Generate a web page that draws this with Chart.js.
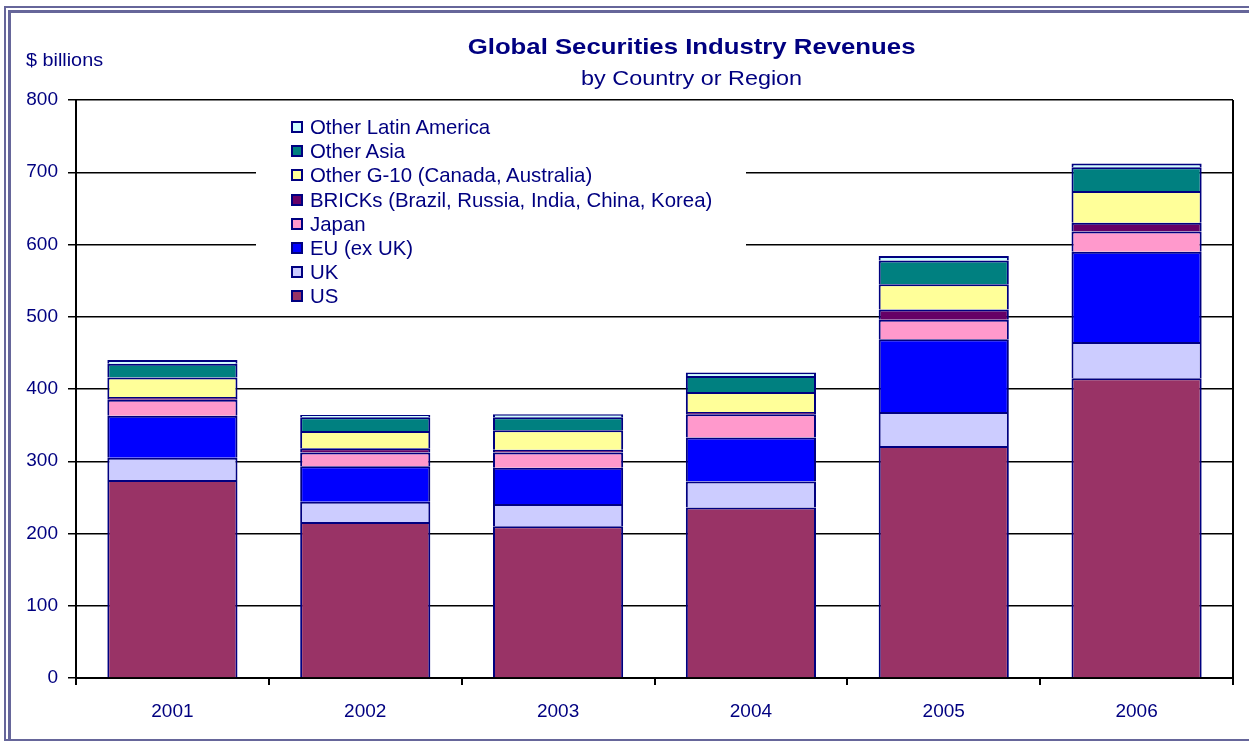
<!DOCTYPE html>
<html>
<head>
<meta charset="utf-8">
<script src="https://cdn.jsdelivr.net/npm/chart.js@4"></script>
<style>
  html, body { margin: 0; padding: 0; background: #fff; }
  #wrap { position: relative; width: 1249px; height: 741px; overflow: hidden; font-family: "Liberation Sans", Arial, sans-serif; color: #000080; }
  #chart { position: absolute; left: 0; top: 0; }
  .frame1 { position: absolute; left: 4px; top: 6px; width: 1300px; height: 735px; border-left: 2px solid #66669a; border-top: 2px solid #66669a; border-bottom: 2px solid #66669a; box-sizing: border-box; }
  .frame2 { position: absolute; left: 8px; top: 10px; width: 1300px; height: 740px; border-left: 3px solid #66669a; border-top: 3px solid #66669a; box-sizing: border-box; }
  .title { position: absolute; left: 0; width: 1383px; text-align: center; top: 34px; font-weight: bold; font-size: 22px; transform: scaleX(1.17); transform-origin: 691px 0; }
  .subtitle { position: absolute; left: 0; width: 1383px; text-align: center; top: 67px; font-size: 20px; transform: scaleX(1.17); transform-origin: 691px 0; }
  .unit { position: absolute; left: 26px; top: 50px; font-size: 18px; transform: scaleX(1.1); transform-origin: 0 0; }
  #legend { position: absolute; left: 256px; top: 112px; width: 490px; height: 198px; background: #fff; }
  .item { position: absolute; left: 35px; height: 24px; line-height: 24px; font-size: 20.4px; white-space: nowrap; }
  .item span.box { position: absolute; left: 0; top: 6px; width: 8px; height: 8px; border: 2px solid #000080; }
  .item span.lbl { position: absolute; left: 19px; top: 0; }
</style>
</head>
<body>
<div id="wrap">
  <canvas id="chart" width="1249" height="741"></canvas>
  <div class="frame1"></div>
  <div class="frame2"></div>
  <div class="title">Global Securities Industry Revenues</div>
  <div class="subtitle">by Country or Region</div>
  <div class="unit">$ billions</div>
  <div id="legend"></div>
</div>
<script>
const years = ['2001', '2002', '2003', '2004', '2005', '2006'];

const us = [274, 216, 210, 236, 321, 415];
const uk = [31, 28, 31, 36, 47, 50];
const euExUk = [58, 49, 50, 61, 101, 125];
const japan = [22, 19, 21, 32, 27, 28];
const bricks = [4, 6, 4, 3, 14, 12];
const otherG10 = [27, 24, 27, 28, 35, 44];
const otherAsia = [19, 19, 18, 22, 33, 33];
const otherLatAm = [5, 3, 4, 5, 6, 5];

const yTicks = [0, 100, 200, 300, 400, 500, 600, 700, 800];

const navy = '#000080';

const series = [
  { label: 'US', data: us, color: '#993366' },
  { label: 'UK', data: uk, color: '#ccccff' },
  { label: 'EU (ex UK)', data: euExUk, color: '#0000ff' },
  { label: 'Japan', data: japan, color: '#ff99cc' },
  { label: 'BRICKs (Brazil, Russia, India, China, Korea)', data: bricks, color: '#660066' },
  { label: 'Other G-10 (Canada, Australia)', data: otherG10, color: '#ffff99' },
  { label: 'Other Asia', data: otherAsia, color: '#008080' },
  { label: 'Other Latin America', data: otherLatAm, color: '#ccffff' }
];

// legend in reverse order, like the stack
const legendEl = document.getElementById('legend');
series.slice().reverse().forEach((s, i) => {
  const row = document.createElement('div');
  row.className = 'item';
  row.style.top = (3 + i * 24.2) + 'px';
  row.innerHTML = `<span class="box" style="background:${s.color}"></span><span class="lbl">${s.label}</span>`;
  legendEl.appendChild(row);
});

const rightBorder = {
  id: 'rightBorder',
  beforeDatasetsDraw(chart) {
    const { ctx, chartArea } = chart;
    ctx.save();
    ctx.strokeStyle = '#000';
    ctx.lineWidth = 2;
    ctx.beginPath();
    ctx.moveTo(chartArea.right, chartArea.top);
    ctx.lineTo(chartArea.right, chartArea.bottom);
    ctx.stroke();
    ctx.restore();
  }
};

new Chart(document.getElementById('chart'), {
  type: 'bar',
  data: {
    labels: years,
    datasets: series.map(s => ({
      label: s.label,
      data: s.data,
      backgroundColor: s.color,
      borderColor: navy,
      borderWidth: 2,
      categoryPercentage: 1,
      barPercentage: 0.675
    }))
  },
  options: {
    responsive: false,
    animation: false,
    layout: { padding: { top: 100, right: 16, left: 0, bottom: 0 } },
    plugins: {
      legend: { display: false },
      tooltip: { enabled: false }
    },
    scales: {
      x: {
        stacked: true,
        grid: {
          offset: true,
          drawOnChartArea: false,
          drawTicks: true,
          tickLength: 7,
          color: '#000',
          lineWidth: 2
        },
        border: { color: '#000', width: 2 },
        ticks: {
          color: navy,
          padding: 15,
          font: { family: 'Liberation Sans', size: 19 }
        },
        afterFit(scale) { scale.height = 63; }
      },
      y: {
        stacked: true,
        min: 0,
        max: 800,
        afterBuildTicks(scale) { scale.ticks = yTicks.map(v => ({ value: v })); },
        grid: {
          color: '#000',
          lineWidth: 1.5,
          drawTicks: true,
          tickLength: 8
        },
        border: { color: '#000', width: 2 },
        ticks: {
          color: navy,
          padding: 10,
          font: { family: 'Liberation Sans', size: 19 }
        },
        afterFit(scale) { scale.width = 76; }
      }
    }
  },
  plugins: [rightBorder]
});
</script>
</body>
</html>
